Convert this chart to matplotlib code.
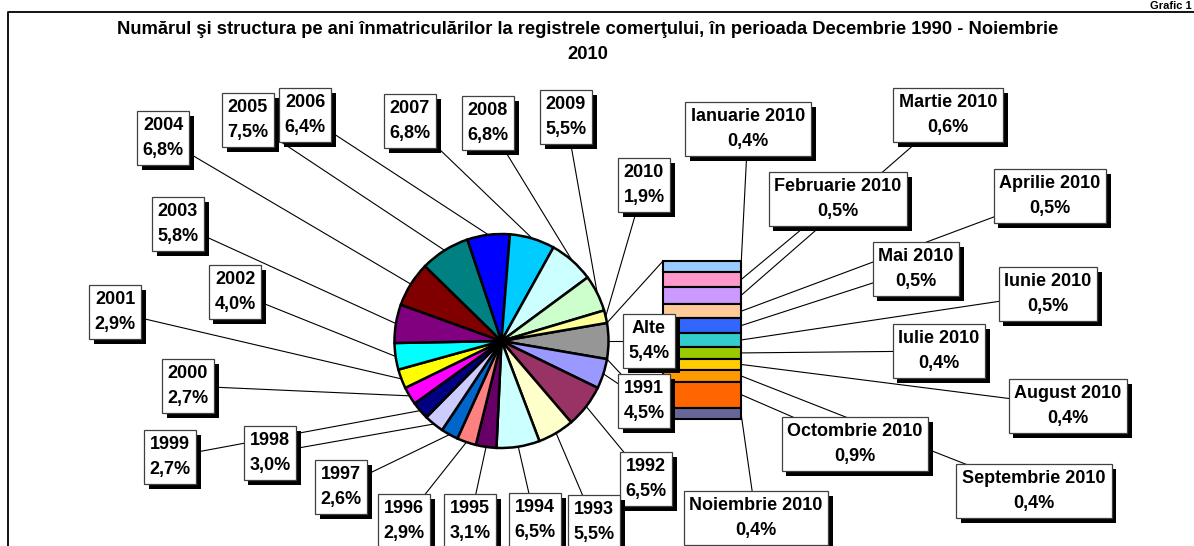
import numpy as np
import matplotlib.pyplot as plt
import matplotlib.patheffects as pe

plt.rcParams['font.family'] = ['Liberation Sans', 'DejaVu Sans']

W, H = 1194, 546

# pie: years 1991-2010, share of registrations (%)
years = ['1991', '1992', '1993', '1994', '1995', '1996', '1997', '1998', '1999', '2000',
         '2001', '2002', '2003', '2004', '2005', '2006', '2007', '2008', '2009', '2010']
year_pct = [4.5, 6.5, 5.5, 6.5, 3.1, 2.9, 2.6, 3.0, 2.7, 2.7,
            2.9, 4.0, 5.8, 6.8, 7.5, 6.4, 6.8, 6.8, 5.5, 1.9]
year_colors = ['#9999FF', '#993366', '#FFFFCC', '#CCFFFF', '#660066', '#FF8080', '#0066CC',
               '#CCCCFF', '#000080', '#FF00FF', '#FFFF00', '#00FFFF', '#800080', '#800000',
               '#008080', '#0000FF', '#00CCFF', '#CCFFFF', '#CCFFCC', '#FFFF99']

# "Alte" slice, split by month of 2010 in the bar
other_label = 'Alte'
other_pct = 5.4
other_color = '#969696'
months = ['Ianuarie 2010', 'Februarie 2010', 'Martie 2010', 'Aprilie 2010', 'Mai 2010',
          'Iunie 2010', 'Iulie 2010', 'August 2010', 'Septembrie 2010', 'Octombrie 2010',
          'Noiembrie 2010']
month_pct = [0.4, 0.5, 0.6, 0.5, 0.5, 0.5, 0.4, 0.4, 0.4, 0.9, 0.4]
month_colors = ['#99CCFF', '#FF99CC', '#CC99FF', '#FFCC99', '#3366FF', '#33CCCC',
                '#99CC00', '#FFCC00', '#FF9900', '#FF6600', '#666699']

title = ('Numărul şi structura pe ani înmatriculărilor la registrele comerţului, '
         'în perioada Decembrie 1990 - Noiembrie\n2010')

# layout (image pixel coords, y from top)
pie_c = (501.5, 341)
pie_r = 107
bar_left, bar_right, bar_top, bar_bot = 663, 741, 261, 419
other_pos = (649, 341)
year_pos = [(644, 401), (646, 479), (594, 522), (535, 520), (470, 521), (404, 521),
            (341, 487), (270, 453), (170, 457), (188, 386), (115, 312), (235, 292),
            (178, 224), (163, 138), (248, 120), (305, 115), (410, 121), (488, 123),
            (566, 117), (644, 185)]
month_pos = [(748, 129), (838, 199), (948, 115), (1050, 196), (916, 269), (1048, 294),
             (939, 351), (1068, 406), (1034, 491), (855, 444), (756, 518)]


def fy(y):
    return H - y


def pct(v):
    return f'{v:.1f}'.replace('.', ',') + '%'


def box_label(ax, x, y, txt):
    t = ax.text(x, fy(y), txt, ha='center', va='center', ma='center', fontsize=13,
                fontweight='bold', linespacing=1.6, zorder=10,
                bbox=dict(boxstyle='square,pad=0.32', fc='white', ec='#404040', lw=0.9))
    t.get_bbox_patch().set_path_effects([
        pe.SimplePatchShadow(offset=(3.5, -3.5), shadow_rgbFace='black', alpha=1.0),
        pe.Normal()])
    return t


fig = plt.figure(figsize=(W / 100, H / 100), dpi=100)
ax = fig.add_axes([0, 0, 1, 1])

values = [other_pct] + year_pct
start = other_pct / sum(values) * 360 / 2
wedges, _ = ax.pie(values, colors=[other_color] + year_colors, startangle=start,
                   counterclock=False, center=(pie_c[0], fy(pie_c[1])), radius=pie_r,
                   wedgeprops=dict(edgecolor='black', linewidth=1.8))

cx, cy = pie_c[0], fy(pie_c[1])


def edge_pt(ang):
    a = np.deg2rad(ang)
    return cx + pie_r * np.cos(a), cy + pie_r * np.sin(a)


# pie leader lines and labels
labels = [other_label] + years
positions = [other_pos] + year_pos
for w, lab, v, (lx, ly) in zip(wedges, labels, values, positions):
    mid = (w.theta1 + w.theta2) / 2
    px, py = edge_pt(mid)
    ax.plot([px, lx], [py, fy(ly)], color='black', lw=0.8, zorder=1)
    box_label(ax, lx, ly, f'{lab}\n{pct(v)}')

# stacked bar for months
scale = (bar_bot - bar_top) / sum(month_pct)
top = fy(bar_top)
bottoms = []
for v in month_pct:
    top -= v * scale
    bottoms.append(top)
heights = [v * scale for v in month_pct]
ax.bar((bar_left + bar_right) / 2, heights, bottom=bottoms, width=bar_right - bar_left,
       color=month_colors, edgecolor='black', linewidth=1.5, zorder=3)

# connectors pie -> bar
w0 = wedges[0]
for ang, by in [(w0.theta2, fy(bar_top)), (w0.theta1, fy(bar_bot))]:
    px, py = edge_pt(ang)
    ax.plot([px, bar_left], [py, by], color='black', lw=0.8, zorder=2)

for b, h, lab, v, (lx, ly) in zip(bottoms, heights, months, month_pct, month_pos):
    ax.plot([bar_right, lx], [b + h / 2, fy(ly)], color='black', lw=0.8, zorder=1)
    box_label(ax, lx, ly, f'{lab}\n{pct(v)}')

# frame + title
ax.plot([8, 8, W + 5], [-5, fy(12), fy(12)], color='black', lw=1.3, zorder=0)
ax.text(588, fy(42), title, ha='center', va='center', ma='center', fontsize=13.2,
        fontweight='bold', linespacing=1.55)
ax.text(W - 2, fy(1), 'Grafic 1', ha='right', va='top', fontsize=8, fontweight='bold')

ax.set_xlim(0, W)
ax.set_ylim(0, H)
ax.set_aspect('auto')
ax.axis('off')

fig.savefig('out.png', dpi=100)
